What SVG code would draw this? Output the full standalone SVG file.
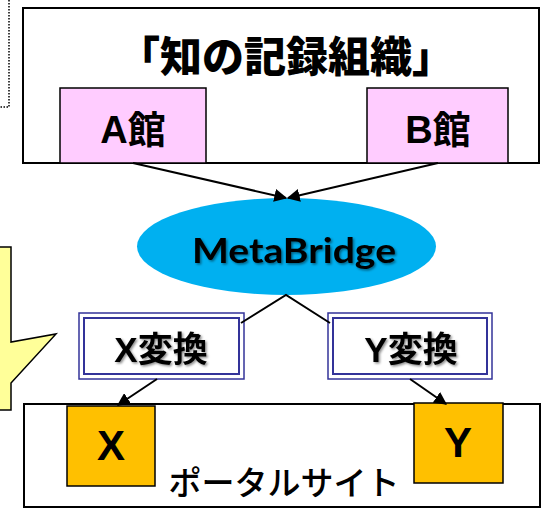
<svg xmlns="http://www.w3.org/2000/svg" width="545" height="509" viewBox="0 0 545 509">
<style>
.box{fill:#fff;stroke:#000;stroke-width:2}
.pink{fill:#FFCCFF;stroke:#000;stroke-width:1.5}
.orange{fill:#FFC000;stroke:#000;stroke-width:1.5}
.t{font-family:"Liberation Sans","Noto Sans CJK JP",sans-serif;font-weight:bold;fill:#000;text-anchor:middle}
.dbl{fill:#fff;stroke:#333399;stroke-width:1.5}
.inner{fill:none;stroke:#333399;stroke-width:2}
.conn{stroke:#000;stroke-width:2;fill:none}
</style>
<defs>
<marker id="arrh" viewBox="0 0 10 10" refX="9" refY="5" markerWidth="13" markerHeight="13" orient="auto" markerUnits="userSpaceOnUse">
<path d="M0,0 L10,5 L0,10 z" fill="#000"/>
</marker>
<filter id="sh" x="-10%" y="-20%" width="130%" height="150%">
<feDropShadow dx="1.5" dy="1.5" stdDeviation="1.2" flood-color="#000" flood-opacity="0.45"/>
</filter>
</defs>
<g id="dotted">
<path d="M9,0 V107 H0" fill="none" stroke="#000" stroke-width="1.5" stroke-dasharray="1.5,1.5"/>
</g>
<g id="callout">
<path d="M-5,247 H11 V342 L56,334 L11,383 V410 H-5 Z" fill="#FFFF99" stroke="#000" stroke-width="1.5"/>
</g>
<g id="knowledge-org">
<rect class="box" x="23" y="8" width="516" height="155"/>
<text class="t" x="286" y="72" font-size="42" style="font-family:'Noto Sans CJK JP',sans-serif;font-weight:900">「知の記録組織」</text>
</g>
<g id="libA">
<rect class="pink" x="60" y="88" width="146" height="75"/>
<text class="t" x="133" y="143" font-size="38">A館</text>
</g>
<g id="libB">
<rect class="pink" x="367" y="88" width="141" height="75"/>
<text class="t" x="438" y="143" font-size="38">B館</text>
</g>
<g id="metabridge">
<ellipse cx="286.5" cy="246.5" rx="149.5" ry="48.5" fill="#00B0F0"/>
<text class="t" x="294" y="263" font-size="34" textLength="204" lengthAdjust="spacingAndGlyphs" style="font-family:Lato,'Open Sans',sans-serif" filter="url(#sh)">MetaBridge</text>
</g>
<g id="xconv">
<rect class="dbl" x="79" y="313" width="165" height="66"/>
<rect class="inner" x="84" y="318" width="155" height="56"/>
<text class="t" x="161" y="362" font-size="35" filter="url(#sh)">X変換</text>
</g>
<g id="yconv">
<rect class="dbl" x="328" y="313" width="164" height="66"/>
<rect class="inner" x="333" y="318" width="154" height="56"/>
<text class="t" x="411" y="362" font-size="35" filter="url(#sh)">Y変換</text>
</g>
<g id="portal">
<rect class="box" x="24" y="404" width="516" height="103"/>
<text x="284" y="495" font-size="33" font-family="'Noto Sans CJK JP',sans-serif" font-weight="500" text-anchor="middle">ポータルサイト</text>
</g>
<g id="siteX">
<rect class="orange" x="67" y="406" width="88" height="80"/>
<text class="t" x="111" y="460" font-size="42">X</text>
</g>
<g id="siteY">
<rect class="orange" x="414" y="403" width="89" height="80"/>
<text class="t" x="458" y="457" font-size="42">Y</text>
</g>
<g id="connectors">
<line class="conn" x1="133" y1="163" x2="286" y2="198" marker-end="url(#arrh)"/>
<line class="conn" x1="438" y1="163" x2="288" y2="198" marker-end="url(#arrh)"/>
<polyline class="conn" points="241,323 286,295 330,323"/>
<line class="conn" x1="157" y1="379" x2="118" y2="405" marker-end="url(#arrh)"/>
<line class="conn" x1="410" y1="379" x2="446" y2="404" marker-end="url(#arrh)"/>
</g>
</svg>
